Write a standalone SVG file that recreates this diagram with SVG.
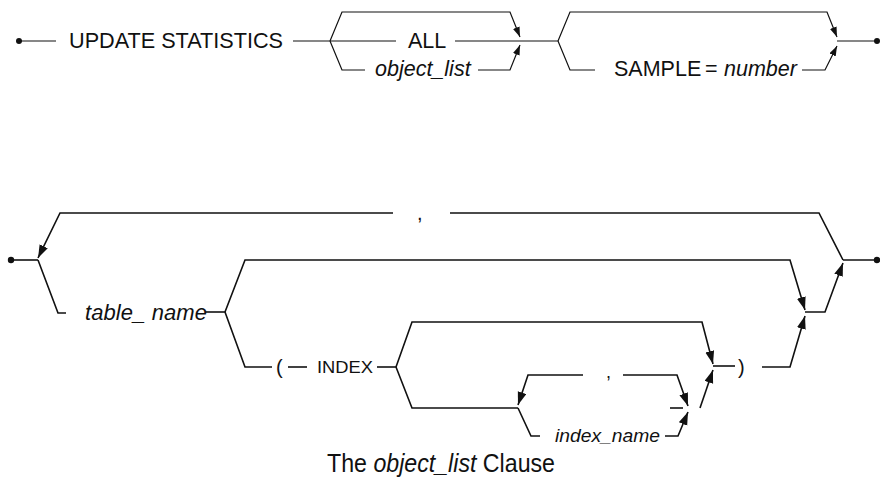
<svg xmlns="http://www.w3.org/2000/svg" width="880" height="483" viewBox="0 0 880 483">
<style>
.ln{fill:none;stroke:#111;stroke-width:1.2;stroke-linejoin:miter}
.ln2{fill:none;stroke:#111;stroke-width:1.6;stroke-linejoin:miter}
.t{font-family:"Liberation Sans",Arial,sans-serif;fill:#111}
.i{font-style:italic}
</style>
<defs>
<marker id="ah" markerUnits="userSpaceOnUse" markerWidth="11" markerHeight="8" refX="10" refY="3.5" orient="auto">
<path d="M0,0 L10,3.5 L0,7 z" fill="#111"/>
</marker>
<marker id="ah2" markerUnits="userSpaceOnUse" markerWidth="14" markerHeight="10" refX="13" refY="4.5" orient="auto">
<path d="M0,0 L13,4.5 L0,9 z" fill="#111"/>
</marker>
</defs>
<rect width="880" height="483" fill="#fff"/>
<g id="connectors">
<!-- top diagram -->
<circle cx="19" cy="41" r="3" fill="#111"/>
<path class="ln" d="M19,41 L56,41"/>
<path class="ln" d="M293,41 L330,41"/>
<path class="ln" d="M330,41 L342,12 L510,12 L520,37" marker-end="url(#ah)"/>
<path class="ln" d="M330,41 L396,41"/>
<path class="ln" d="M455,41 L520,41"/>
<path class="ln" d="M330,41 L342,70 L365,70"/>
<path class="ln" d="M478,70 L510,70 L520,45" marker-end="url(#ah)"/>
<path class="ln" d="M520,41 L558,41"/>
<path class="ln" d="M558,41 L570,12 L827,12 L837,37" marker-end="url(#ah)"/>
<path class="ln" d="M558,41 L570,70 L595,70"/>
<path class="ln" d="M802,70 L825,70 L837,46" marker-end="url(#ah)"/>
<path class="ln" d="M837,41 L876,41"/>
<circle cx="877" cy="41" r="3" fill="#111"/>
<!-- bottom diagram -->
<circle cx="11" cy="260" r="3.2" fill="#111"/>
<path class="ln2" d="M11,260 L38,260"/>
<path class="ln2" d="M450,213 L819,213 L843,260"/>
<path class="ln2" d="M393,213 L60,213 L38,258" marker-end="url(#ah2)"/>
<path class="ln2" d="M38,260 L58,313 L66,313"/>
<path class="ln2" d="M205,312 L225,312"/>
<path class="ln2" d="M225,312 L245,260 L790,260 L805,310" marker-end="url(#ah2)"/>
<path class="ln2" d="M225,312 L245,367 L272,367"/>
<path class="ln2" d="M288,367 L307,367"/>
<path class="ln2" d="M377,367 L396,367"/>
<path class="ln2" d="M396,367 L412,322 L702,322 L713,364" marker-end="url(#ah2)"/>
<path class="ln2" d="M396,367 L412,408 L518,408"/>
<path class="ln2" d="M583,375 L528,375 L518,405" marker-end="url(#ah2)"/>
<path class="ln2" d="M623,375 L677,375 L688,406" marker-end="url(#ah2)"/>
<path class="ln2" d="M518,408 L531,436 L540,436"/>
<path class="ln2" d="M665,436 L678,436 L688,412" marker-end="url(#ah2)"/>
<path class="ln2" d="M670,408 L683,408"/>
<path class="ln2" d="M700,408 L713,370" marker-end="url(#ah2)"/>
<path class="ln2" d="M713,366 L735,366"/>
<path class="ln2" d="M762,367 L790,367 L805,316" marker-end="url(#ah2)"/>
<path class="ln2" d="M805,312 L825,312 L843,263" marker-end="url(#ah2)"/>
<path class="ln2" d="M843,260 L876,260"/>
<circle cx="877" cy="260" r="3.2" fill="#111"/>
</g>
<g id="update_statistics"><text class="t" x="69" y="48" font-size="21.5" textLength="214" lengthAdjust="spacingAndGlyphs">UPDATE STATISTICS</text></g>
<g id="all"><text class="t" x="408" y="48" font-size="21.5">ALL</text></g>
<g id="object_list"><text class="t i" x="375" y="76" font-size="21.5">object_list</text></g>
<g id="sample"><text class="t" y="76" font-size="21.5"><tspan x="614">SAMPLE</tspan><tspan x="705">=</tspan><tspan x="724" font-style="italic">number</tspan></text></g>
<g id="comma1"><text class="t" x="417" y="220" font-size="20">,</text></g>
<g id="table_name"><text class="t i" x="85" y="320" font-size="22" textLength="122" lengthAdjust="spacing">table_ name</text></g>
<g id="index_kw"><text class="t" x="276" y="374" font-size="20">(</text><text class="t" x="317" y="373" font-size="17" textLength="56" lengthAdjust="spacingAndGlyphs">INDEX</text></g>
<g id="comma2"><text class="t" x="606" y="378" font-size="18">,</text></g>
<g id="index_name"><text class="t i" x="555" y="442" font-size="18" textLength="105" lengthAdjust="spacingAndGlyphs">index_name</text></g>
<g id="close_paren"><text class="t" x="738" y="374" font-size="20">)</text></g>
<g id="caption"><text class="t" x="327" y="472" font-size="25" textLength="228" lengthAdjust="spacingAndGlyphs">The <tspan font-style="italic">object_list</tspan> Clause</text></g>
</svg>
